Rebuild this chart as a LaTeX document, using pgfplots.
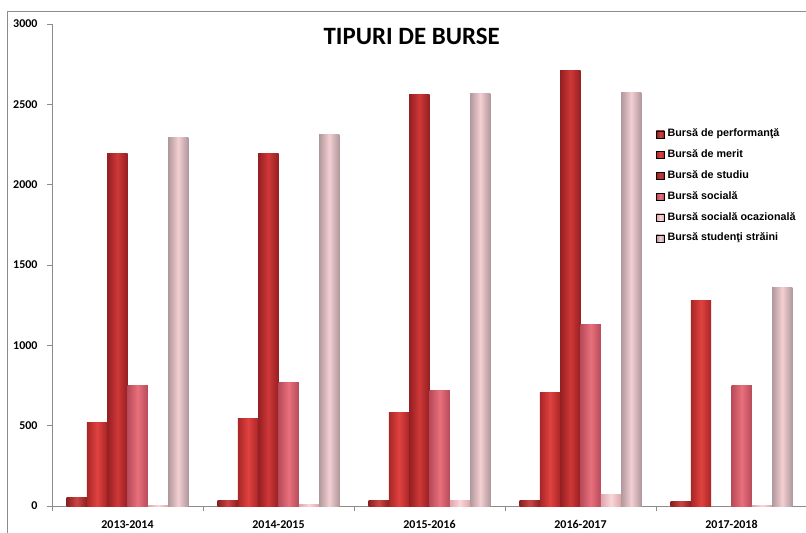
\documentclass[border=0pt]{standalone}
\usepackage{fontspec}
\usepackage{pgfplots}
\pgfplotsset{compat=1.18}
\newfontfamily\carlito{Carlito}
\newfontfamily\arialf{Liberation Sans}
\definecolor{perfE}{HTML}{8A2020}
\definecolor{perfM}{HTML}{CC4444}
\definecolor{merE}{HTML}{A82626}
\definecolor{merM}{HTML}{E04240}
\definecolor{stuE}{HTML}{951F22}
\definecolor{stuM}{HTML}{CF3838}
\definecolor{socE}{HTML}{B84A5A}
\definecolor{socM}{HTML}{E8707C}
\definecolor{ocaE}{HTML}{DDA6AB}
\definecolor{ocaM}{HTML}{FAD6DA}
\definecolor{strE}{HTML}{B0989C}
\definecolor{strM}{HTML}{F4CED2}
\definecolor{axgray}{HTML}{8C8C8C}
\pgfplotsset{
  sbar/.style={ybar, bar width=0.1344, draw=none, forget plot},
  perf/.style={sbar, bar shift=-0.336, left color=perfE, right color=perfE, middle color=perfM},
  mer/.style={sbar, bar shift=-0.2016, left color=merE, right color=merE, middle color=merM},
  stu/.style={sbar, bar shift=-0.0672, left color=stuE, right color=stuE, middle color=stuM},
  soc/.style={sbar, bar shift=0.0672, left color=socE, right color=socE, middle color=socM},
  oca/.style={sbar, bar shift=0.2016, left color=ocaE, right color=ocaE, middle color=ocaM},
  str/.style={sbar, bar shift=0.336, left color=strE, right color=strE, middle color=strM},
}
\newcommand\legimg[2]{\addlegendimage{legend image code/.code={\fill[left color=#1,right color=#1,middle color=#2] (0bp,-3.5bp) rectangle (8bp,3.5bp);}}}
\begin{document}
\begin{tikzpicture}
\useasboundingbox (0bp,0bp) rectangle (806bp,-533bp);
\fill[white] (0bp,0bp) rectangle (806bp,-533bp);
\draw[axgray, line width=0.8bp] (7bp,-533bp) -- (7bp,-11bp) -- (806bp,-11bp);
\begin{axis}[
  at={(52bp,-506bp)}, anchor=south west,
  scale only axis, width=755bp, height=482bp,
  xmin=-0.5, xmax=4.5, ymin=0, ymax=3000,
  axis x line*=bottom, axis y line*=left,
  axis line style={axgray, line width=0.8bp},
  xtick={0,1,2,3,4},
  xticklabels={2013-2014,2014-2015,2015-2016,2016-2017,2017-2018},
  minor xtick={-0.5,0.5,1.5,2.5,3.5,4.5},
  major x tick style={draw=none},
  ytick={0,500,1000,1500,2000,2500,3000},
  tick align=outside,
  tick style={axgray, line width=0.8bp},
  major tick length=5bp, minor tick length=5bp,
  tick label style={font=\carlito\bfseries\fontsize{12}{14}\selectfont},
  xticklabel style={yshift=-6bp},
  yticklabel style={xshift=-6bp},
  /pgf/number format/assume math mode=true,
  /pgf/number format/1000 sep={},
  legend cell align=left,
  legend style={draw=none, fill=none, at={(0.8,0.7813)}, anchor=north west,
    inner sep=0pt, row sep=11.6bp,
    nodes={inner sep=0pt, text height=7.2bp, text depth=2bp,
      font=\arialf\bfseries\fontsize{10.8}{12}\selectfont},
    /tikz/every odd column/.append style={column sep=3bp}},
]
% Bursa de performanta
\addplot[perf] coordinates {(0,50)};
\addplot[perf] coordinates {(1,36)};
\addplot[perf] coordinates {(2,36)};
\addplot[perf] coordinates {(3,37)};
\addplot[perf] coordinates {(4,25)};
% Bursa de merit
\addplot[mer] coordinates {(0,520)};
\addplot[mer] coordinates {(1,545)};
\addplot[mer] coordinates {(2,582)};
\addplot[mer] coordinates {(3,705)};
\addplot[mer] coordinates {(4,1282)};
% Bursa de studiu
\addplot[stu] coordinates {(0,2192)};
\addplot[stu] coordinates {(1,2192)};
\addplot[stu] coordinates {(2,2562)};
\addplot[stu] coordinates {(3,2712)};
\addplot[stu] coordinates {(4,0)};
% Bursa sociala
\addplot[soc] coordinates {(0,752)};
\addplot[soc] coordinates {(1,770)};
\addplot[soc] coordinates {(2,716)};
\addplot[soc] coordinates {(3,1130)};
\addplot[soc] coordinates {(4,747)};
% Bursa sociala ocazionala
\addplot[oca] coordinates {(0,4)};
\addplot[oca] coordinates {(1,10)};
\addplot[oca] coordinates {(2,36)};
\addplot[oca] coordinates {(3,72)};
\addplot[oca] coordinates {(4,4)};
% Bursa studenti straini
\addplot[str] coordinates {(0,2295)};
\addplot[str] coordinates {(1,2315)};
\addplot[str] coordinates {(2,2565)};
\addplot[str] coordinates {(3,2575)};
\addplot[str] coordinates {(4,1357)};
\legimg{perfE}{perfM}
\legimg{merE}{merM}
\legimg{stuE}{stuM}
\legimg{socE}{socM}
\legimg{ocaE}{ocaM}
\legimg{strE}{strM}
\legend{Bursă de performanţă, Bursă de merit, Bursă de studiu, Bursă socială, Bursă socială ocazională, Bursă studenţi străini}
\end{axis}
\node[font=\carlito\bfseries\fontsize{25}{30}\selectfont] at (411.7bp,-36.3bp) {TIPURI DE BURSE};
\end{tikzpicture}
\end{document}
